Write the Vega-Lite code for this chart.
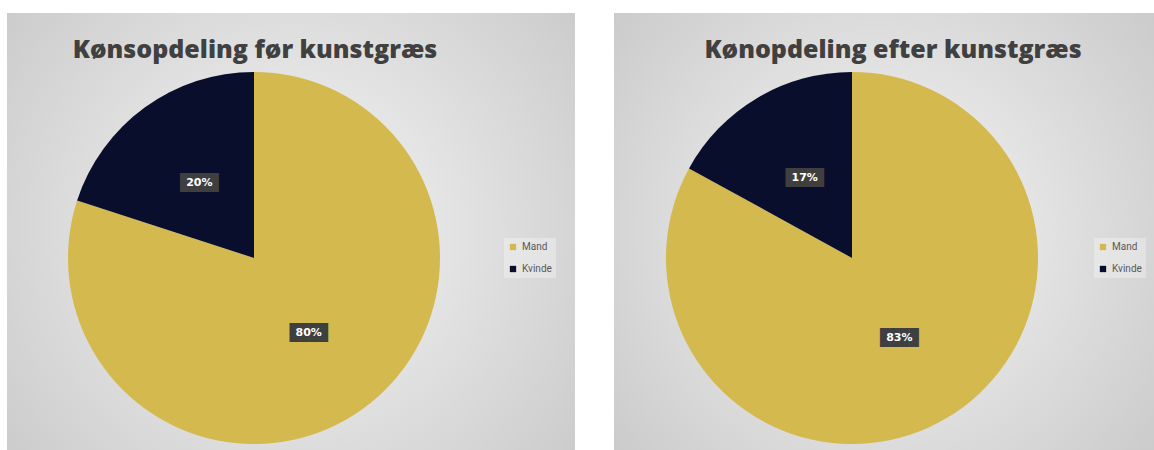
{
  "$schema": "https://vega.github.io/schema/vega-lite/v6.json",
  "padding": {"left": 7, "top": 13, "right": 0, "bottom": 0},
  "background": "white",
  "spacing": 39,
  "config": {"view": {"stroke": null}},
  "resolve": {"scale": {"color": "independent"}, "legend": {"color": "independent"}},
  "hconcat": [
    {
      "width": 568,
      "height": 437,
      "title": {"text": "Kønsopdeling før kunstgræs", "anchor": "middle", "dx": -36, "offset": -50, "fontSize": 25, "font": "Open Sans", "fontWeight": 800, "color": "#404040"},
      "data": {"values": [
        {"gender": "Mand", "pct": 80, "label": "80%", "order": 1},
        {"gender": "Kvinde", "pct": 20, "label": "20%", "order": 2}
      ]},
      "layer": [
        {
          "data": {"values": [{"bg": 1}]},
          "mark": {"type": "rect", "color": {"gradient": "radial", "x1": 0.5, "y1": 0.5, "r1": 0, "x2": 0.5, "y2": 0.5, "r2": 0.75, "stops": [{"offset": 0, "color": "#f6f6f6"}, {"offset": 1, "color": "#c4c4c4"}]}}
        },
        {
          "mark": {"type": "arc", "outerRadius": 186, "x": 247, "y": 245},
          "encoding": {
            "theta": {"field": "pct", "type": "quantitative", "stack": true},
            "order": {"field": "order", "type": "quantitative"},
            "color": {
              "field": "gender", "type": "nominal",
              "scale": {"domain": ["Mand", "Kvinde"], "range": ["#D4B94F", "#0A0E2D"]},
              "legend": {"orient": "none", "legendX": 497, "legendY": 225, "title": null, "symbolType": "square", "symbolSize": 40, "symbolStrokeWidth": 0, "labelFontSize": 10, "labelColor": "#595959", "labelFont": "Roboto", "rowPadding": 12, "padding": 4, "fillColor": "rgba(255,255,255,0.3)"}
            }
          }
        },
        {
          "mark": {"type": "text", "radius": 93, "text": "████", "font": "DejaVu Sans Mono", "fontSize": 16, "color": "#3f3f3f", "x": 247, "y": 245},
          "encoding": {
            "theta": {"field": "pct", "type": "quantitative", "stack": true},
            "order": {"field": "order", "type": "quantitative"}
          }
        },
        {
          "mark": {"type": "text", "radius": 93, "font": "DejaVu Sans", "fontWeight": "bold", "fontSize": 11, "color": "white", "x": 247, "y": 245},
          "encoding": {
            "theta": {"field": "pct", "type": "quantitative", "stack": true},
            "order": {"field": "order", "type": "quantitative"},
            "text": {"field": "label", "type": "nominal"}
          }
        }
      ]
    },
    {
      "width": 540,
      "height": 437,
      "title": {"text": "Kønopdeling efter kunstgræs", "anchor": "middle", "dx": 9, "offset": -50, "fontSize": 25, "font": "Open Sans", "fontWeight": 800, "color": "#404040"},
      "data": {"values": [
        {"gender": "Mand", "pct": 83, "label": "83%", "order": 1},
        {"gender": "Kvinde", "pct": 17, "label": "17%", "order": 2}
      ]},
      "layer": [
        {
          "data": {"values": [{"bg": 1}]},
          "mark": {"type": "rect", "color": {"gradient": "radial", "x1": 0.5, "y1": 0.5, "r1": 0, "x2": 0.5, "y2": 0.5, "r2": 0.75, "stops": [{"offset": 0, "color": "#f6f6f6"}, {"offset": 1, "color": "#c4c4c4"}]}}
        },
        {
          "mark": {"type": "arc", "outerRadius": 186, "x": 238, "y": 245},
          "encoding": {
            "theta": {"field": "pct", "type": "quantitative", "stack": true},
            "order": {"field": "order", "type": "quantitative"},
            "color": {
              "field": "gender", "type": "nominal",
              "scale": {"domain": ["Mand", "Kvinde"], "range": ["#D4B94F", "#0A0E2D"]},
              "legend": {"orient": "none", "legendX": 480, "legendY": 225, "title": null, "symbolType": "square", "symbolSize": 40, "symbolStrokeWidth": 0, "labelFontSize": 10, "labelColor": "#595959", "labelFont": "Roboto", "rowPadding": 12, "padding": 4, "fillColor": "rgba(255,255,255,0.3)"}
            }
          }
        },
        {
          "mark": {"type": "text", "radius": 93, "text": "████", "font": "DejaVu Sans Mono", "fontSize": 16, "color": "#3f3f3f", "x": 238, "y": 245},
          "encoding": {
            "theta": {"field": "pct", "type": "quantitative", "stack": true},
            "order": {"field": "order", "type": "quantitative"}
          }
        },
        {
          "mark": {"type": "text", "radius": 93, "font": "DejaVu Sans", "fontWeight": "bold", "fontSize": 11, "color": "white", "x": 238, "y": 245},
          "encoding": {
            "theta": {"field": "pct", "type": "quantitative", "stack": true},
            "order": {"field": "order", "type": "quantitative"},
            "text": {"field": "label", "type": "nominal"}
          }
        }
      ]
    }
  ]
}
